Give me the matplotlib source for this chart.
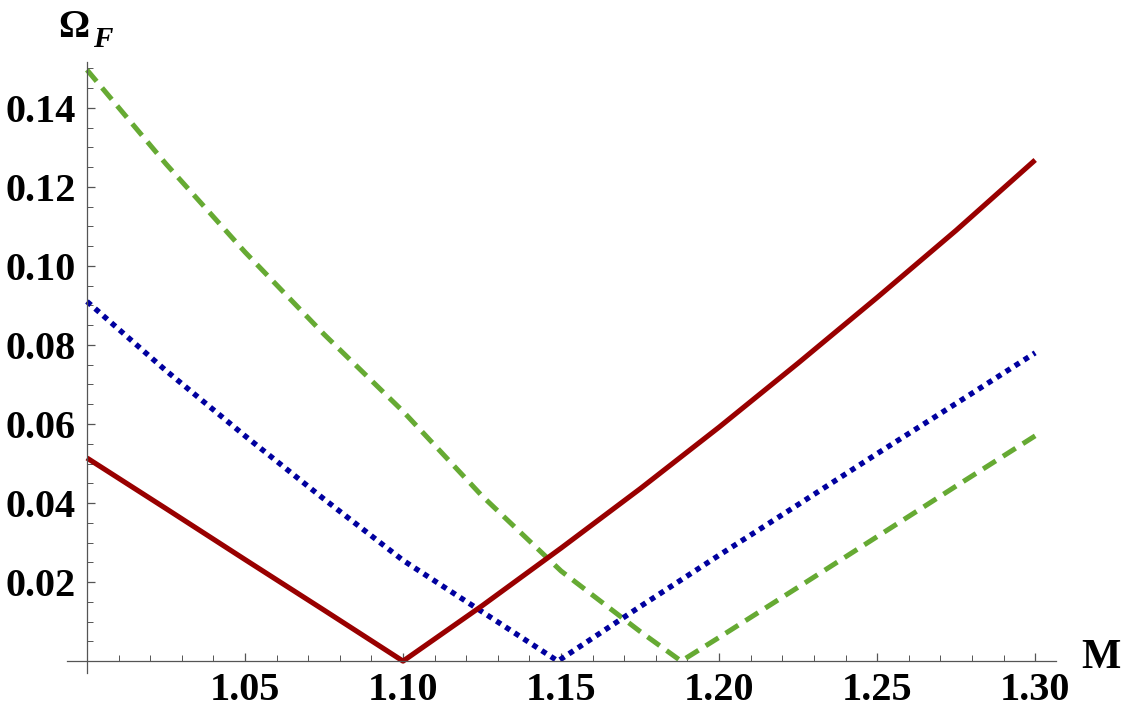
import matplotlib
matplotlib.use('Agg')
import matplotlib.pyplot as plt
from matplotlib.ticker import MultipleLocator, FixedLocator

# Kurven-Daten
m_red = [1.0, 1.025, 1.05, 1.075, 1.10, 1.125, 1.15, 1.175, 1.20, 1.225, 1.25, 1.275, 1.30]
omega_red = [0.0514, 0.0386, 0.0257, 0.0129, 0.0, 0.0140, 0.0286, 0.0436, 0.0592, 0.0754, 0.0920, 0.1090, 0.1268]

m_blue = [1.0, 1.025, 1.05, 1.075, 1.10, 1.125, 1.149, 1.175, 1.20, 1.225, 1.25, 1.275, 1.30]
omega_blue = [0.0910, 0.0735, 0.0570, 0.0410, 0.0255, 0.0125, 0.0, 0.0138, 0.0268, 0.0396, 0.0525, 0.0652, 0.0780]

m_green = [1.0, 1.025, 1.05, 1.075, 1.10, 1.125, 1.15, 1.175, 1.188, 1.20, 1.225, 1.25, 1.275, 1.30]
omega_green = [0.1496, 0.1258, 0.1035, 0.0827, 0.0632, 0.0418, 0.0228, 0.0075, 0.0, 0.0060, 0.0187, 0.0315, 0.0443, 0.0570]

x_ticks = [1.05, 1.10, 1.15, 1.20, 1.25, 1.30]
y_ticks = [0.02, 0.04, 0.06, 0.08, 0.10, 0.12, 0.14]

fig = plt.figure(figsize=(11.25, 7.18), dpi=100)
ax = fig.add_axes([0.0596, 0.0627, 0.8791, 0.851])

ax.plot(m_green, omega_green, color='#66aa33', lw=3.6, linestyle=(0, (3.0, 1.7)), dash_capstyle='butt')
ax.plot(m_blue, omega_blue, color='#00009f', lw=3.9, linestyle=(0, (1.0, 1.0)), dash_capstyle='butt')
ax.plot(m_red, omega_red, color='#990000', lw=3.7, solid_capstyle='butt')

ax.set_xlim(0.9937, 1.3066)
ax.set_ylim(-0.003, 0.1516)

# Achsen wie in Mathematica: Kreuzung im Ursprung
for side in ['top', 'right']:
    ax.spines[side].set_visible(False)
ax.spines['left'].set_position(('data', 1.0))
ax.spines['bottom'].set_position(('data', 0.0))
for side in ['left', 'bottom']:
    ax.spines[side].set_linewidth(0.9)
    ax.spines[side].set_color('#555555')

ax.xaxis.set_major_locator(FixedLocator(x_ticks))
ax.yaxis.set_major_locator(FixedLocator(y_ticks))
ax.xaxis.set_minor_locator(MultipleLocator(0.01))
ax.yaxis.set_minor_locator(MultipleLocator(0.005))
ax.set_xticklabels([f'{v:.2f}' for v in x_ticks])
ax.set_yticklabels([f'{v:.2f}' for v in y_ticks])

ax.tick_params(axis='both', which='major', direction='in', length=6, width=0.9, color='#555555')
ax.tick_params(axis='both', which='minor', direction='in', length=4, width=0.7, color='#555555')
ax.tick_params(axis='x', which='major', pad=8)
ax.tick_params(axis='y', which='major', pad=8)
for lab in ax.get_xticklabels() + ax.get_yticklabels():
    lab.set_fontfamily('Liberation Serif')
    lab.set_fontweight('bold')
    lab.set_fontsize(29)

# Achsenbeschriftungen
fig.text(0.0515, 0.962, 'Ω', fontfamily='Liberation Serif', fontweight='bold',
         fontsize=28, ha='left', va='center')
fig.text(0.083, 0.945, 'F', fontfamily='Liberation Serif', fontweight='bold',
         fontstyle='italic', fontsize=21, ha='left', va='center')
fig.text(0.979, 0.084, 'M', fontfamily='Liberation Serif', fontweight='bold',
         fontsize=30, ha='center', va='center')

fig.savefig('out.png', dpi=100)
